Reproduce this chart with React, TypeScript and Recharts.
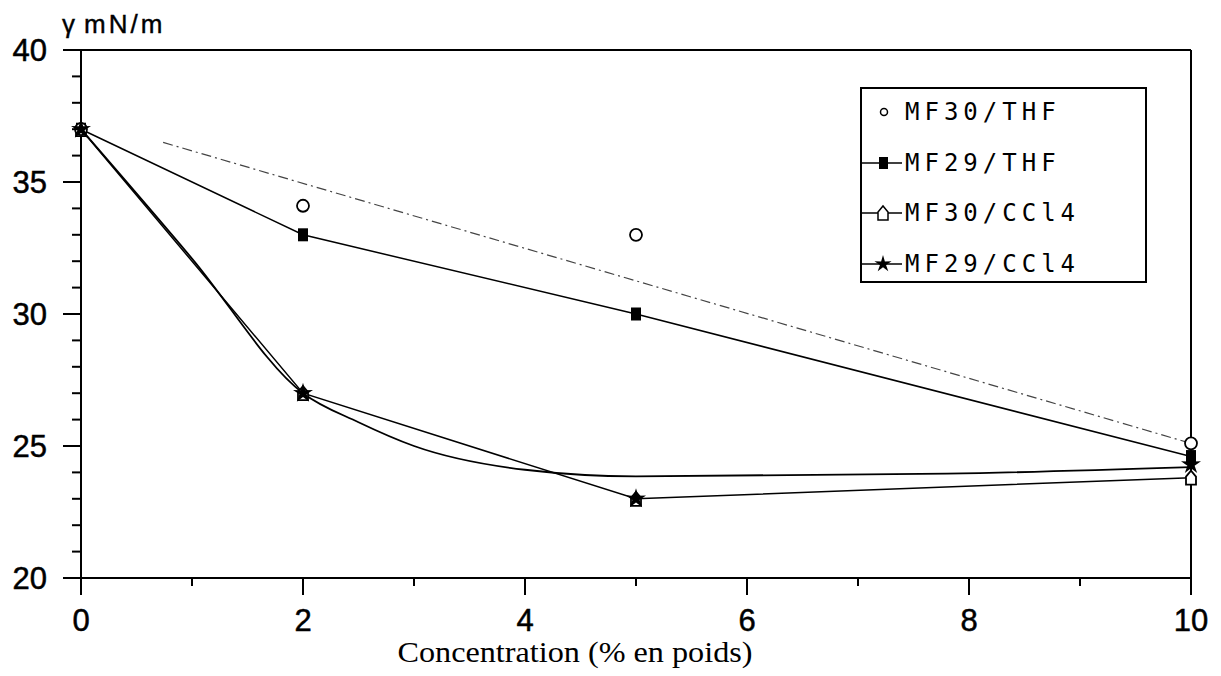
import React from "react";
import { ComposedChart, Line, XAxis, YAxis, ReferenceLine, Label } from "recharts";

// concentration (% en poids) where the samples were measured
const concentration = [0, 2, 5, 10];
// surface tension, mN/m
const mf30Thf = [37, 34.1, 33, 25.1];
const mf29Thf = [37, 33, 30, 24.6];
const mf30Ccl4 = [37, 27, 23, 23.8];
const mf29Ccl4 = [37, 27, 23, 24.3];

// dashed fit through the MF30/THF points
const thfFitX = [0.74, 10];
const thfFitY = [36.5, 25.1];

// smooth hand-drawn curve for the CCl4 solutions
const ccl4CurveX = [0, 1, 2, 2.5, 3, 4, 5, 7.8, 10];
const ccl4CurveY = [37, 32.1, 27, 25.9, 25.0, 24.1, 23.85, 23.95, 24.2];

const xTicks = [0, 1, 2, 3, 4, 5, 6, 7, 8, 9, 10];
const yTicks = Array.from({ length: 21 }, (_, i) => 20 + i);

const legendItems = ["MF30/THF", "MF29/THF", "MF30/CCl4", "MF29/CCl4"];

const toRows = (xs: number[], ys: number[]) => xs.map((c, i) => ({ c, v: ys[i] }));

const sansFont = "'Liberation Sans', Arial, sans-serif";

const circleDot = (props: any) => (
    <circle key={`c-${props.index}`} cx={props.cx} cy={props.cy} r={6} fill="#fff" stroke="#000" strokeWidth={1.8} />
);

const squareDot = (props: any) => (
    <rect key={`s-${props.index}`} x={props.cx - 5} y={props.cy - 6.5} width={10} height={13} fill="#000" />
);

const housePath = (cx: number, cy: number) =>
    `M${cx - 5},${cy + 7} L${cx - 5},${cy - 1} L${cx},${cy - 7} L${cx + 5},${cy - 1} L${cx + 5},${cy + 7} Z`;

const houseDot = (props: any) => (
    <path key={`h-${props.index}`} d={housePath(props.cx, props.cy)} fill="#fff" stroke="#000" strokeWidth={1.8} />
);

const starPath = (cx: number, cy: number, ro: number, ri: number) => {
    let d = "";
    for (let k = 0; k < 10; k++) {
        const r = k % 2 === 0 ? ro : ri;
        const a = -Math.PI / 2 + (k * Math.PI) / 5;
        d += `${k === 0 ? "M" : "L"}${cx + r * Math.cos(a)},${cy + r * Math.sin(a)} `;
    }
    return d + "Z";
};

const starDot = (props: any) => (
    <path key={`t-${props.index}`} d={starPath(props.cx, props.cy, 10.5, 3.8)} fill="#000" />
);

const XTick = (props: any) => {
    const { x, y, payload } = props;
    const major = payload.value % 2 === 0;
    return (
        <g>
            <line x1={x} x2={x} y1={y} y2={y + (major ? 17 : 8)} stroke="#000" strokeWidth={2} />
            {major && (
                <text
                    x={x}
                    y={y + 53}
                    textAnchor="middle"
                    fontSize={31}
                    fontFamily={sansFont}
                    fill="#000"
                    stroke="#000"
                    strokeWidth={0.5}
                >
                    {payload.value}
                </text>
            )}
        </g>
    );
};

const YTick = (props: any) => {
    const { x, y, payload } = props;
    const major = payload.value % 5 === 0;
    return (
        <g>
            <line x1={x - (major ? 18 : 9)} x2={x} y1={y} y2={y} stroke="#000" strokeWidth={2} />
            {major && (
                <text
                    x={x - 34}
                    y={y + 11}
                    textAnchor="end"
                    fontSize={31}
                    fontFamily={sansFont}
                    fill="#000"
                    stroke="#000"
                    strokeWidth={0.5}
                >
                    {payload.value}
                </text>
            )}
        </g>
    );
};

const LegendMarker = ({ i }: { i: number }) => (
    <svg width={44} height={28} style={{ display: "block" }}>
        {i > 0 && <line x1={0} x2={42} y1={14} y2={14} stroke="#000" strokeWidth={1.5} />}
        {i === 0 && <circle cx={24} cy={14} r={3.5} fill="#fff" stroke="#000" strokeWidth={1.5} />}
        {i === 1 && <rect x={19} y={8} width={9} height={12} fill="#000" />}
        {i === 2 && <path d={housePath(23, 14)} fill="#fff" stroke="#000" strokeWidth={1.5} />}
        {i === 3 && <path d={starPath(23, 14, 9, 3.2)} fill="#000" />}
    </svg>
);

export default function App() {
    return (
        <div style={{ position: "absolute", left: 0, top: 0, width: 1221, height: 676, background: "#fff" }}>
            <ComposedChart width={1221} height={676} margin={{ top: 50, right: 30, bottom: 38, left: 11 }}>
                <XAxis
                    type="number"
                    dataKey="c"
                    domain={[0, 10]}
                    ticks={xTicks}
                    interval={0}
                    height={60}
                    tickSize={0}
                    tickMargin={0}
                    tickLine={false}
                    tick={<XTick />}
                    axisLine={{ stroke: "#000", strokeWidth: 2 }}
                >
                    <Label
                        content={(p: any) => (
                            <text
                                x={p.viewBox.x + p.viewBox.width / 2 - 61}
                                y={p.viewBox.y + 84}
                                textAnchor="middle"
                                fontSize={30}
                                textLength={355}
                                lengthAdjust="spacingAndGlyphs"
                                fontFamily="'Liberation Serif', 'Times New Roman', serif"
                                fill="#000"
                            >
                                Concentration (% en poids)
                            </text>
                        )}
                    />
                </XAxis>
                <YAxis
                    type="number"
                    domain={[20, 40]}
                    ticks={yTicks}
                    interval={0}
                    width={70}
                    tickSize={0}
                    tickMargin={0}
                    tickLine={false}
                    tick={<YTick />}
                    axisLine={{ stroke: "#000", strokeWidth: 2 }}
                >
                    <Label
                        content={(p: any) => (
                            <text
                                x={p.viewBox.x + 51}
                                y={p.viewBox.y - 17}
                                fontSize={26}
                                fontFamily={sansFont}
                                fill="#000"
                                stroke="#000"
                                strokeWidth={0.4}
                            >
                                <tspan>γ</tspan>
                                <tspan x={p.viewBox.x + 73} letterSpacing={3}>
                                    mN/m
                                </tspan>
                            </text>
                        )}
                    />
                </YAxis>
                <ReferenceLine y={40} stroke="#000" strokeWidth={2} />
                <ReferenceLine x={10} stroke="#000" strokeWidth={2} />
                <Line
                    data={toRows(thfFitX, thfFitY)}
                    dataKey="v"
                    type="linear"
                    stroke="#444"
                    strokeWidth={1.2}
                    strokeDasharray="10 4 2 4"
                    dot={false}
                    isAnimationActive={false}
                />
                <Line
                    data={toRows(ccl4CurveX, ccl4CurveY)}
                    dataKey="v"
                    type="monotone"
                    stroke="#000"
                    strokeWidth={1.8}
                    dot={false}
                    isAnimationActive={false}
                />
                <Line
                    data={toRows(concentration, mf29Thf)}
                    dataKey="v"
                    type="linear"
                    stroke="#000"
                    strokeWidth={1.5}
                    dot={squareDot}
                    isAnimationActive={false}
                />
                <Line
                    data={toRows(concentration, mf30Ccl4)}
                    dataKey="v"
                    type="linear"
                    stroke="#000"
                    strokeWidth={1.5}
                    dot={houseDot}
                    isAnimationActive={false}
                />
                <Line
                    data={toRows(concentration, mf30Thf)}
                    dataKey="v"
                    stroke="none"
                    dot={circleDot}
                    isAnimationActive={false}
                />
                <Line
                    data={toRows(concentration, mf29Ccl4)}
                    dataKey="v"
                    stroke="none"
                    dot={starDot}
                    isAnimationActive={false}
                />
            </ComposedChart>
            <div
                style={{
                    position: "absolute",
                    left: 860,
                    top: 87,
                    width: 287,
                    height: 196,
                    boxSizing: "border-box",
                    border: "2px solid #000",
                    background: "#fff",
                }}
            >
                {legendItems.map((name, i) => (
                    <div
                        key={name}
                        style={{
                            position: "absolute",
                            left: -2,
                            top: 9 + i * 50.5,
                            height: 28,
                            display: "flex",
                            alignItems: "center",
                            whiteSpace: "nowrap",
                        }}
                    >
                        <LegendMarker i={i} />
                        <span
                            style={{
                                fontFamily: "'DejaVu Sans Mono', monospace",
                                fontSize: 24,
                                letterSpacing: 5,
                                marginLeft: 1,
                                color: "#000",
                            }}
                        >
                            {name}
                        </span>
                    </div>
                ))}
            </div>
        </div>
    );
}
